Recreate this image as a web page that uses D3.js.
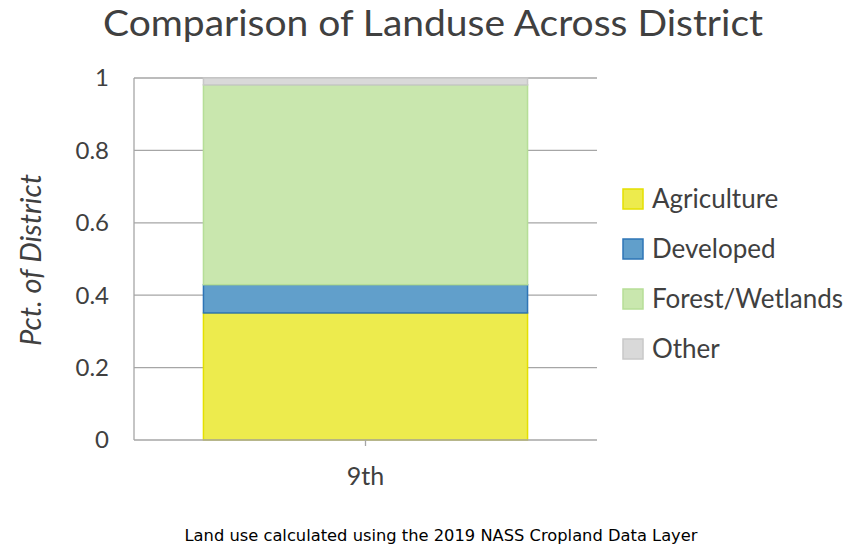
<!DOCTYPE html>
<html>
<head>
<meta charset="utf-8">
<script src="https://cdn.jsdelivr.net/npm/d3@7"></script>
<style>
  body { margin: 0; background: #fff; }
  text { font-family: Lato, "Open Sans", sans-serif; fill: #404040; }
</style>
</head>
<body>
<script>
// Data
const districts = ['9th'];
const landuse = ['Agriculture', 'Developed', 'Forest/Wetlands', 'Other'];
const agriculture = [0.351];
const developed = [0.078];
const forestWetlands = [0.552];
const other = [0.019];
const yTicks = [0, 0.2, 0.4, 0.6, 0.8, 1];

const width = 858;
const height = 551;
const margin = { top: 78, right: 261, bottom: 111, left: 134 };

const fills = ['#edeb4d', '#619fcb', '#c9e7ae', '#d9d9d9'];
const strokes = ['#e4e000', '#2e75b6', '#b6de97', '#c8c8c8'];

const rows = districts.map((d, i) => ({
  district: d,
  'Agriculture': agriculture[i],
  'Developed': developed[i],
  'Forest/Wetlands': forestWetlands[i],
  'Other': other[i]
}));

const svg = d3.select('body')
  .append('svg')
  .attr('width', width)
  .attr('height', height);

const x = d3.scaleBand()
  .domain(districts)
  .range([margin.left, width - margin.right])
  .paddingInner(0.3)
  .paddingOuter(0.15);

const y = d3.scaleLinear()
  .domain([0, 1])
  .range([height - margin.bottom, margin.top]);

// Gridlines
svg.append('g')
  .selectAll('line')
  .data(yTicks.slice(1))
  .enter()
  .append('line')
  .attr('x1', margin.left)
  .attr('x2', width - margin.right)
  .attr('y1', d => y(d))
  .attr('y2', d => y(d))
  .attr('stroke', '#a6a6a6')
  .attr('stroke-width', 1.3);

// Y axis line and labels
svg.append('line')
  .attr('x1', margin.left).attr('x2', margin.left)
  .attr('y1', y(1)).attr('y2', y(0))
  .attr('stroke', '#a6a6a6').attr('stroke-width', 1.3);

svg.append('g')
  .selectAll('text')
  .data(yTicks)
  .enter()
  .append('text')
  .attr('x', margin.left - 25)
  .attr('y', d => y(d))
  .attr('dy', '0.35em')
  .attr('text-anchor', 'end')
  .style('font-size', '24px')
  .text(d => d3.format('~g')(d));

// Stacked bars
const stack = d3.stack().keys(landuse);
const series = stack(rows);

svg.append('g')
  .selectAll('g')
  .data(series)
  .enter()
  .append('g')
  .attr('fill', (d, i) => fills[i])
  .attr('stroke', (d, i) => strokes[i])
  .attr('stroke-width', 1.5)
  .selectAll('rect')
  .data(d => d)
  .enter()
  .append('rect')
  .attr('x', d => x(d.data.district))
  .attr('width', x.bandwidth())
  .attr('y', d => y(d[1]))
  .attr('height', d => y(d[0]) - y(d[1]));

// X axis
svg.append('line')
  .attr('x1', margin.left).attr('x2', width - margin.right)
  .attr('y1', y(0)).attr('y2', y(0))
  .attr('stroke', '#a6a6a6').attr('stroke-width', 1.3);

const xc = d => x(d) + x.bandwidth() / 2;
svg.append('g')
  .selectAll('line')
  .data(districts)
  .enter()
  .append('line')
  .attr('x1', xc).attr('x2', xc)
  .attr('y1', y(0)).attr('y2', y(0) + 6)
  .attr('stroke', '#a6a6a6').attr('stroke-width', 1.3);

svg.append('g')
  .selectAll('text')
  .data(districts)
  .enter()
  .append('text')
  .attr('x', xc)
  .attr('y', y(0) + 45)
  .attr('text-anchor', 'middle')
  .style('font-size', '25px')
  .text(d => d);

// Title
svg.append('text')
  .attr('x', 433)
  .attr('y', 36)
  .attr('text-anchor', 'middle')
  .attr('textLength', 660)
  .attr('lengthAdjust', 'spacingAndGlyphs')
  .style('font-size', '36px')
  .text('Comparison of Landuse Across District');

// Y axis title
svg.append('text')
  .attr('transform', 'translate(41,260) rotate(-90)')
  .attr('text-anchor', 'middle')
  .style('font-size', '29px')
  .style('font-style', 'italic')
  .text('Pct. of District');

// Legend
const legend = svg.append('g')
  .selectAll('g')
  .data(landuse)
  .enter()
  .append('g')
  .attr('transform', (d, i) => `translate(623,${199 + i * 50})`);

legend.append('rect')
  .attr('x', 0).attr('y', -10)
  .attr('width', 20).attr('height', 20)
  .attr('fill', (d, i) => fills[i])
  .attr('stroke', (d, i) => strokes[i])
  .attr('stroke-width', 1.5);

legend.append('text')
  .attr('x', 29)
  .attr('y', 0)
  .attr('dy', '0.35em')
  .style('font-size', '26px')
  .text(d => d);

// Footnote
svg.append('text')
  .attr('x', 441)
  .attr('y', 541)
  .attr('text-anchor', 'middle')
  .attr('textLength', 513)
  .attr('lengthAdjust', 'spacingAndGlyphs')
  .style('font-family', '"DejaVu Sans", sans-serif')
  .style('font-size', '15.5px')
  .style('fill', '#000')
  .text('Land use calculated using the 2019 NASS Cropland Data Layer');
</script>
</body>
</html>
